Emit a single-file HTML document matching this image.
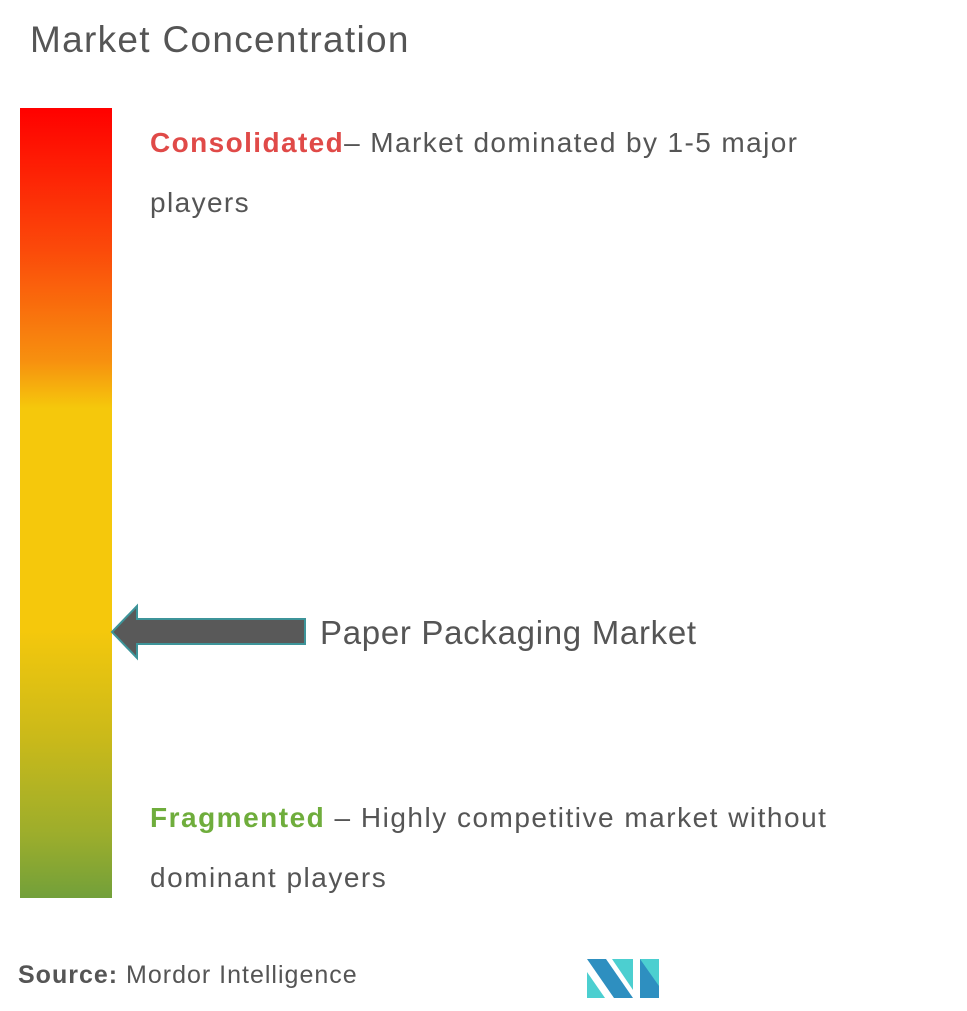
<!DOCTYPE html>
<html><head><meta charset="utf-8"><style>
body{margin:0;width:967px;height:1011px;background:#fff;position:relative;font-family:"Liberation Sans",sans-serif;color:#555;overflow:hidden}
.t{position:absolute;white-space:nowrap}
</style></head><body>
<div class="t" style="left:30px;top:19px;font-size:37px;letter-spacing:1.3px;color:#555">Market Concentration</div>
<div style="position:absolute;left:20px;top:108px;width:92px;height:790px;background:linear-gradient(to bottom,#ff0000 0%,#fb4a0a 18%,#f7900f 32%,#f5c80c 38%,#f5c80c 66%,#c9b91a 80%,#9cad2c 92%,#72a03a 100%)"></div>
<div class="t" style="left:150px;top:127px;font-size:28px;letter-spacing:1.4px"><b style="color:#e04a48">Consolidated</b>– Market dominated by 1-5 major</div>
<div class="t" style="left:150px;top:187px;font-size:28px;letter-spacing:1.4px">players</div>
<svg style="position:absolute;left:0;top:0" width="967" height="1011">
<polygon points="112,632 137,606 137,619 305,619 305,644 137,644 137,658" fill="#595959" stroke="#3d9499" stroke-width="2"/>
<polygon points="587,959 606,959 633,998 614,998" fill="#2e8fc0"/>
<polygon points="587,972 605,998 587,998" fill="#4ccfd0"/>
<polygon points="612,959 633,959 633,990" fill="#4ccfd0"/>
<polygon points="640,959 659,959 659,998 640,998" fill="#4ccfd0"/>
<polygon points="640,959 659,986 659,998 640,998" fill="#2e8fc0"/>
</svg>
<div class="t" style="left:320px;top:614px;font-size:33px;letter-spacing:0.7px">Paper Packaging Market</div>
<div class="t" style="left:150px;top:802px;font-size:28px;letter-spacing:1.5px"><b style="color:#6fad3c">Fragmented</b> – Highly competitive market without</div>
<div class="t" style="left:150px;top:862px;font-size:28px;letter-spacing:1.5px">dominant players</div>
<div class="t" style="left:18px;top:961px;font-size:25px;letter-spacing:1px"><b>Source:</b> Mordor Intelligence</div>
</body></html>
